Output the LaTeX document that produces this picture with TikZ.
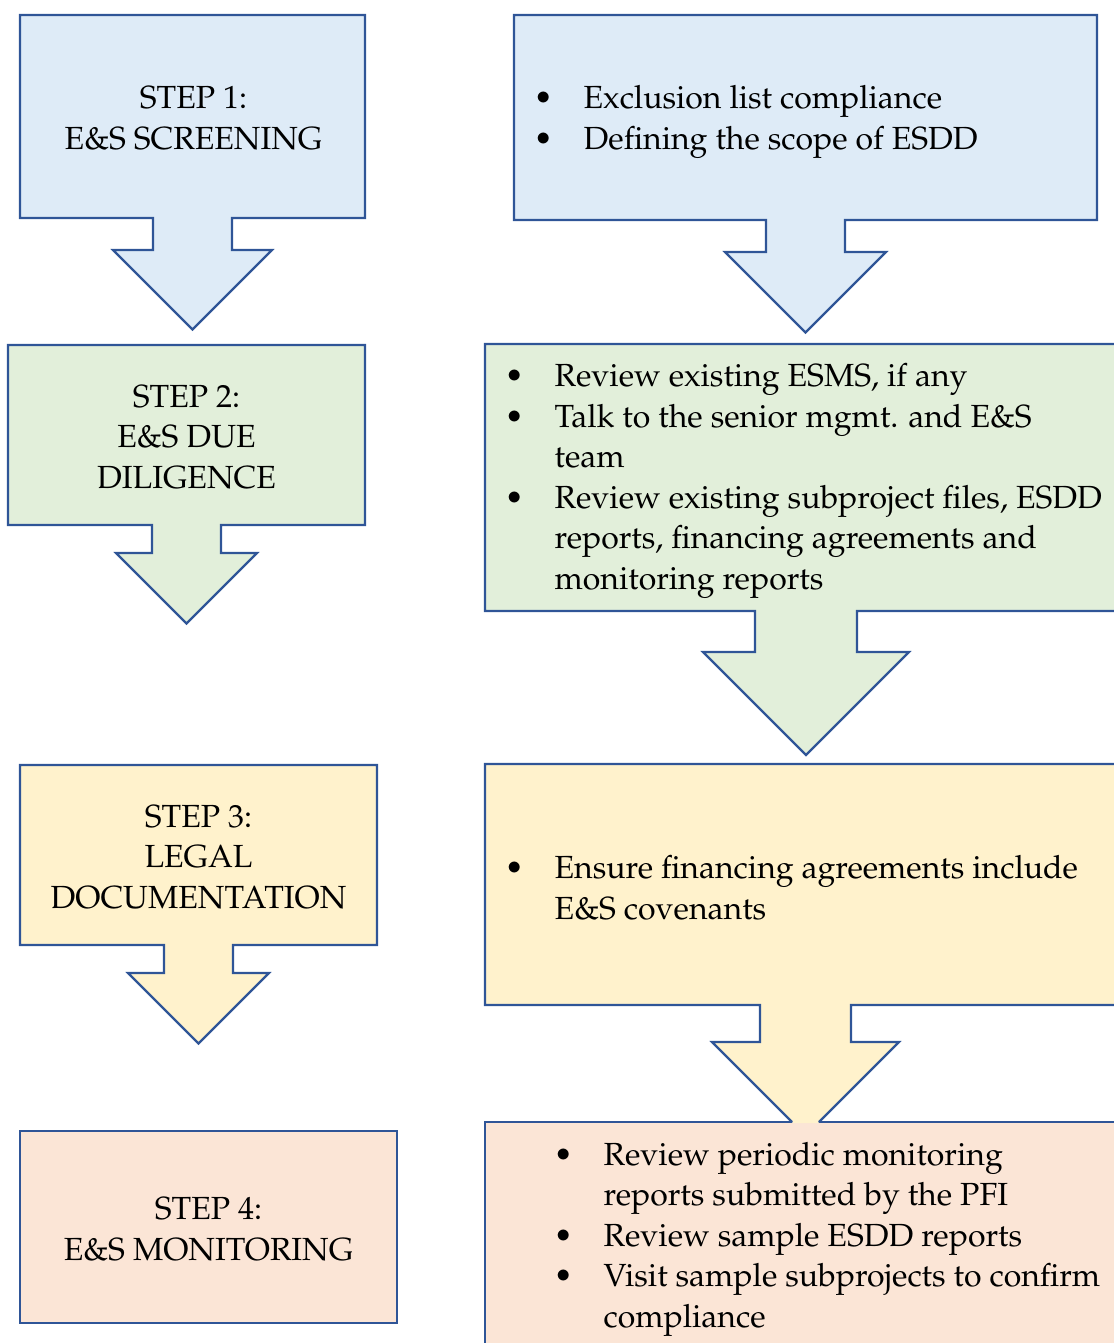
\documentclass[tikz,border=0pt]{standalone}
\usepackage[T1]{fontenc}
\usepackage{mathpazo}
\usepackage{tikz}

\definecolor{edgeblue}{HTML}{2F5597}
\definecolor{screenfill}{HTML}{DEEBF7}
\definecolor{diligfill}{HTML}{E2EFDA}
\definecolor{legalfill}{HTML}{FFF2CC}
\definecolor{monitfill}{HTML}{FBE5D6}

\tikzset{
  stepshape/.style={draw=edgeblue, line width=2.2pt, line join=miter},
  steptext/.style={font=\fontsize{32}{40.5}\selectfont, align=center, inner sep=0pt},
  listtext/.style={font=\fontsize{32}{40.5}\selectfont, align=left, anchor=west, inner sep=0pt},
}
\newcommand{\bul}{\makebox[50pt][l]{\textbullet}}
\newcommand{\nobul}{\hspace*{50pt}}

\begin{document}
\begin{tikzpicture}[x=1pt, y=-1pt]
      \useasboundingbox (0, 0) rectangle (1113, 1343);

      \draw[stepshape, fill=screenfill] (20, 15) -- (365, 15) -- (365, 218) -- (232, 218) -- (232, 250) -- (272, 250)
        -- (192.5, 329.5) -- (113, 250) -- (153, 250) -- (153, 218) -- (20, 218) -- cycle;
      \node[steptext] (step1) at (193.5, 118.5) {STEP 1:\\E\&S SCREENING};

      \draw[stepshape, fill=diligfill] (8, 345) -- (365, 345) -- (365, 525) -- (221, 525) -- (221, 553) -- (257, 553)
        -- (186.5, 623.5) -- (116, 553) -- (152, 553) -- (152, 525) -- (8, 525) -- cycle;
      \node[steptext] (step2) at (186.5, 437) {STEP 2:\\E\&S DUE\\DILIGENCE};

      \draw[stepshape, fill=legalfill] (20, 765) -- (377, 765) -- (377, 945) -- (233, 945) -- (233, 973) -- (269, 973)
        -- (198.5, 1043.5) -- (128, 973) -- (164, 973) -- (164, 945) -- (20, 945) -- cycle;
      \node[steptext] (step3) at (198.5, 857) {STEP 3:\\LEGAL\\DOCUMENTATION};

      \draw[stepshape, fill=monitfill] (20, 1131) rectangle (397, 1323);
      \node[steptext] (step4) at (208.5, 1229) {STEP 4:\\E\&S MONITORING};

      \draw[stepshape, fill=screenfill] (514, 15) -- (1097, 15) -- (1097, 220) -- (845, 220) -- (845, 252) -- (886, 252)
        -- (805.5, 332.5) -- (725, 252) -- (766, 252) -- (766, 220) -- (514, 220) -- cycle;
      \node[listtext] (list1) at (533.5, 122) {\bul Exclusion list compliance\\
        \bul Defining the scope of ESDD};

      \draw[stepshape, fill=diligfill] (485, 344) -- (1130, 344) -- (1130, 611) -- (857, 611) -- (857, 652) -- (909, 652)
        -- (806, 755) -- (703, 652) -- (755, 652) -- (755, 611) -- (485, 611) -- cycle;
      \node[listtext] (list2) at (504.5, 481) {\bul Review existing ESMS, if any\\
        \bul Talk to the senior mgmt. and E\&S\\
        \nobul team\\
        \bul Review existing subproject files, ESDD\\
        \nobul reports, financing agreements and\\
        \nobul monitoring reports};

      % last box first, the arrow above runs into its top edge
      \draw[stepshape, fill=monitfill] (485, 1122) rectangle (1130, 1352);
      \node[listtext] (list4) at (553.5, 1239) {\bul Review periodic monitoring\\
        \nobul reports submitted by the PFI\\
        \bul Review sample ESDD reports\\
        \bul Visit sample subprojects to confirm\\
        \nobul compliance};

      \fill[legalfill] (485, 764) -- (1130, 764) -- (1130, 1005) -- (851, 1005) -- (851, 1042) -- (899, 1042)
        -- (818, 1123) -- (793, 1123) -- (712, 1042) -- (760, 1042) -- (760, 1005) -- (485, 1005) -- cycle;
      \draw[stepshape] (792, 1122) -- (712, 1042) -- (760, 1042) -- (760, 1005) -- (485, 1005) -- (485, 764)
        -- (1130, 764) -- (1130, 1005) -- (851, 1005) -- (851, 1042) -- (899, 1042) -- (819, 1122);
      \node[listtext] (list3) at (504.5, 888) {\bul Ensure financing agreements include\\
        \nobul E\&S covenants};
\end{tikzpicture}
\end{document}
